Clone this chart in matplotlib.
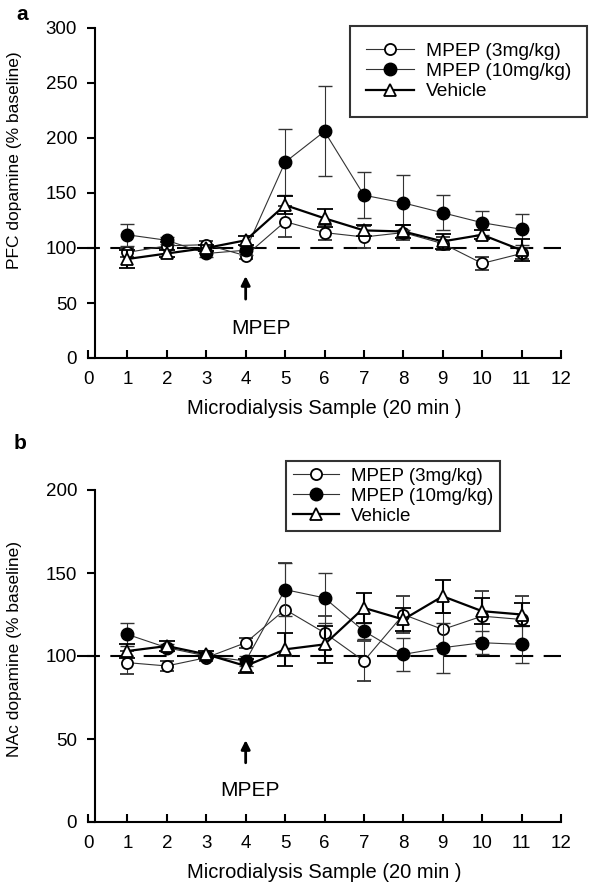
import matplotlib
matplotlib.use("Agg")
import matplotlib.pyplot as plt
from matplotlib.lines import Line2D
from matplotlib import font_manager

plt.rcParams['font.family'] = ['Liberation Sans', 'DejaVu Sans']

samples = list(range(1, 12))

# Panel a: PFC dopamine (% baseline)
pfc_3mg = [96, 102, 103, 93, 124, 114, 110, 114, 104, 86, 95]
pfc_3mg_err = [4, 3, 3, 3, 14, 7, 10, 7, 6, 6, 5]
pfc_10mg = [112, 107, 95, 98, 178, 206, 148, 141, 132, 123, 117]
pfc_10mg_err = [10, 3, 3, 4, 30, 41, 21, 25, 16, 11, 14]
pfc_veh = [90, 95, 100, 107, 139, 127, 116, 115, 106, 112, 98]
pfc_veh_err = [8, 3, 3, 4, 8, 8, 5, 6, 7, 4, 10]

# Panel b: NAc dopamine (% baseline)
nac_3mg = [96, 94, 99, 108, 128, 114, 97, 125, 116, 124, 122]
nac_3mg_err = [7, 3, 2, 3, 28, 10, 12, 11, 10, 15, 14]
nac_10mg = [113, 105, 100, 97, 140, 135, 115, 101, 105, 108, 107]
nac_10mg_err = [7, 2, 2, 3, 16, 15, 5, 10, 15, 7, 11]
nac_veh = [103, 106, 101, 94, 104, 107, 129, 122, 136, 127, 125]
nac_veh_err = [4, 3, 2, 4, 10, 11, 9, 7, 10, 8, 7]

labels = ["MPEP (3mg/kg)", "MPEP (10mg/kg)", "Vehicle"]
xticks = list(range(0, 13))

installed = {f.name for f in font_manager.fontManager.ttflist}
if 'Liberation Sans Narrow' in installed:
    ylab_family = ['Liberation Sans Narrow', 'Liberation Sans']
    ylab_size = 15
else:
    ylab_family = ['Liberation Sans', 'DejaVu Sans']
    ylab_size = 12.5

W, H = 600, 892
fig = plt.figure(figsize=(W / 100, H / 100), dpi=100)

ax_a = fig.add_axes([88 / W, 1 - 358 / H, 473 / W, 330 / H])
ax_b = fig.add_axes([88 / W, 1 - 822 / H, 473 / W, 332 / H])

thin = '#333333'


def draw(ax, d3, e3, d10, e10, dv, ev):
    ax.plot([-0.28, 12], [100, 100], color='black', lw=1.5, dashes=(11, 5),
            clip_on=False, zorder=1)
    ax.errorbar(samples, d3, yerr=e3, color=thin, lw=0.8, elinewidth=0.8,
                capsize=5, capthick=0.8, marker='o', ms=8, mfc='white',
                mec='black', mew=1.3, ecolor=thin, zorder=3, clip_on=False)
    ax.errorbar(samples, d10, yerr=e10, color=thin, lw=0.8, elinewidth=0.8,
                capsize=5, capthick=0.8, marker='o', ms=9, mfc='black',
                mec='black', mew=1.0, ecolor=thin, zorder=4, clip_on=False)
    ax.errorbar(samples, dv, yerr=ev, color='black', lw=1.6, elinewidth=1.5,
                capsize=6, capthick=1.5, marker='^', ms=9, mfc='white',
                mec='black', mew=1.3, ecolor='black', zorder=5, clip_on=False)
    ax.set_xlim(0, 12)
    ax.set_xticks(xticks)
    for s in ('top', 'right'):
        ax.spines[s].set_visible(False)
    ax.spines['left'].set_position(('data', 0.18))
    for s in ('left', 'bottom'):
        ax.spines[s].set_linewidth(1.5)
    ax.tick_params(axis='x', direction='in', length=6, width=1.5, pad=9,
                   labelsize=13.5)
    ax.tick_params(axis='y', direction='out', length=6, width=1.5, pad=7,
                   labelsize=13.5)
    ax.set_xlabel("Microdialysis Sample (20 min )", fontsize=14.5, labelpad=8)


draw(ax_a, pfc_3mg, pfc_3mg_err, pfc_10mg, pfc_10mg_err, pfc_veh, pfc_veh_err)
ax_a.set_ylim(0, 300)
ax_a.set_yticks([0, 50, 100, 150, 200, 250, 300])
ax_a.set_ylabel("PFC dopamine (% baseline)", fontsize=ylab_size, family=ylab_family)
ax_a.yaxis.set_label_coords(-0.14, 0.60)
ax_a.annotate("", xy=(4, 77), xytext=(4, 51),
              arrowprops=dict(arrowstyle='-|>', color='black', lw=2,
                              mutation_scale=13))
ax_a.text(4.38, 27, "MPEP", ha='center', va='center', fontsize=15)

draw(ax_b, nac_3mg, nac_3mg_err, nac_10mg, nac_10mg_err, nac_veh, nac_veh_err)
ax_b.set_ylim(0, 200)
ax_b.set_yticks([0, 50, 100, 150, 200])
ax_b.set_ylabel("NAc dopamine (% baseline)", fontsize=ylab_size, family=ylab_family)
ax_b.yaxis.set_label_coords(-0.14, 0.52)
ax_b.annotate("", xy=(4, 51), xytext=(4, 34),
              arrowprops=dict(arrowstyle='-|>', color='black', lw=2,
                              mutation_scale=13))
ax_b.text(4.1, 19, "MPEP", ha='center', va='center', fontsize=15)

handles = [
    Line2D([], [], color=thin, lw=0.8, marker='o', ms=8, mfc='white', mec='black', mew=1.3),
    Line2D([], [], color=thin, lw=0.8, marker='o', ms=9, mfc='black', mec='black'),
    Line2D([], [], color='black', lw=1.6, marker='^', ms=9, mfc='white', mec='black', mew=1.3),
]

leg_a = fig.legend(handles, labels, loc='upper left',
                   bbox_to_anchor=(350 / W, 1 - 26 / H), fontsize=13.8,
                   frameon=True, fancybox=False, edgecolor='black',
                   borderpad=0.85, labelspacing=0.15, handlelength=2.5,
                   handletextpad=0.6, borderaxespad=0)
leg_a.get_frame().set_linewidth(1.5)

leg_b = fig.legend(handles, labels, loc='upper left',
                   bbox_to_anchor=(286 / W, 1 - 461 / H), fontsize=13.5,
                   frameon=True, fancybox=False, edgecolor='black',
                   borderpad=0.35, labelspacing=0.15, handlelength=2.5,
                   handletextpad=0.6, borderaxespad=0)
leg_b.get_frame().set_linewidth(1.5)

fig.text(16 / W, 1 - 15 / H, "a", fontsize=15, fontweight='bold', ha='left', va='center')
fig.text(14 / W, 1 - 443 / H, "b", fontsize=15, fontweight='bold', ha='left', va='center')

fig.savefig("out.png", dpi=100)
